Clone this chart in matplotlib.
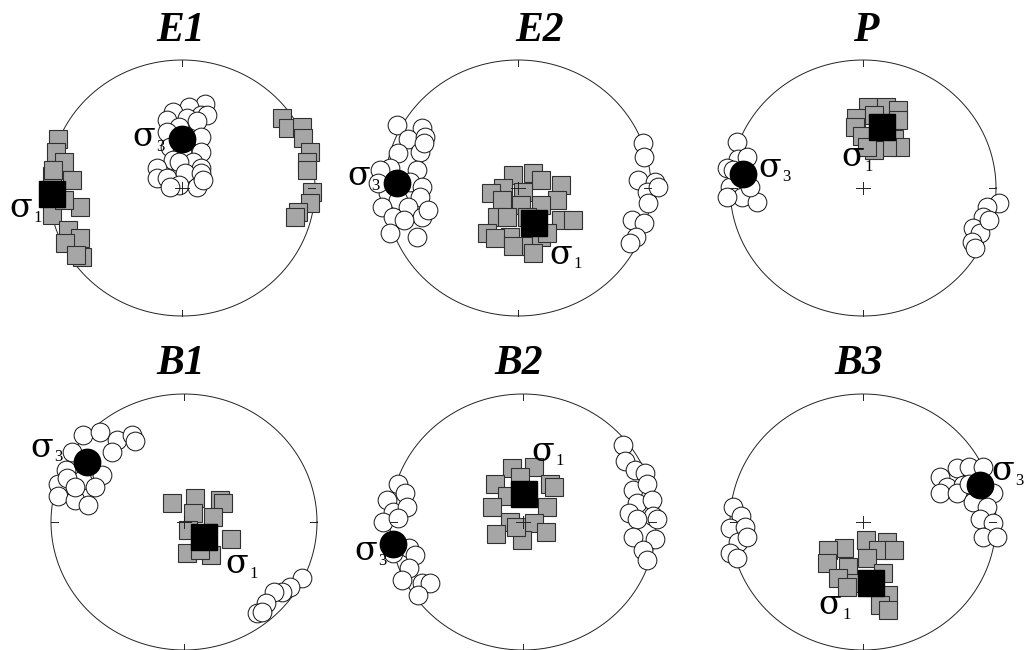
import matplotlib
matplotlib.use("Agg")
import matplotlib.pyplot as plt
import numpy as np

W, H = 1026, 650

# ---------------- data (positions in % of net radius; x = east, y = north) ----------------
titles = ["E1", "E2", "P", "B1", "B2", "B3"]

e1_sq_x = [-93, -95, -89, -98, -83, -77, -98, -86, -77, -88, -75, -80, -89, -97,
           75, 80, 90, 91, 96, 94, 94, 98, 96, 87, 85]
e1_sq_y = [38, 28, 20, 9, 6, -15, -21, -33, -39, -43, -54, -52, -9, 14,
           55, 47, 48, 39, 28, 20, 14, -3, -12, -19, -23]
e1_ci_x = [17, 5, -7, 14, 4, 19, -11, 11, -2, 14, -11, -9, 0, 14, -7, 8, -2, -19, 14,
           -19, -11, 2, 14, -2, 11, -9, 16]
e1_ci_y = [66, 63, 59, 57, 55, 57, 53, 52, 48, 40, 44, 32, 28, 28, 22, 20, 20, 16, 16,
           8, 8, 12, 12, 2, 1, 1, 6]
e1_s1 = (-98, -5)
e1_s3 = (0, 38)

e2_sq_x = [-4, 11, 17, 32, -11, 4, -20, -12, 29, 2, 17, -16, -8, 7, 32, 41, -23, -6,
           -17, 9, 17, -4, 11, 22]
e2_sq_y = [10, 12, 6, 2, 0, -3, -4, -9, -9, -13, -13, -23, -23, -23, -25, -25, -35, -38,
           -39, -45, -38, -45, -51, -35]
e2_ci_x = [-91, -72, -83, -70, -74, -90, -96, -76, -104, -81, -72, -98, -90, -74, -102,
           -83, -94, -72, -96, -76, -86, -68, -105, -71,
           94, 95, 90, 103, 97, 98, 86, 95, 89, 84, 105]
e2_ci_y = [49, 47, 38, 40, 28, 27, 16, 14, 14, 5, 1, -4, -9, -7, -15, -15, -23, -23, -35,
           -38, -25, -17, 4, 35,
           35, 24, 6, 5, -3, -12, -25, -27, -38, -43, 1]
e2_s1 = (12, -27)
e2_s3 = (-91, 4)

p_sq_x = [4, 17, 26, -5, -6, 8, 26, -1, 11, 23, 28, 18, 8, 3]
p_sq_y = [63, 63, 61, 55, 48, 57, 53, 41, 38, 38, 32, 32, 30, 32]
p_ci_x = [-95, -94, -102, -87, -100, -91, -80, -102, -85, -98,
          102, 93, 90, 83, 88, 82, 84, 95]
p_ci_y = [36, 23, 16, 24, 1, -7, -11, -7, 1, 14,
          -12, -15, -23, -31, -35, -42, -47, -25]
p_s1 = (14, 48)
p_s3 = (-90, 11)

b1_sq_x = [-9, 8, 27, 29, 7, 22, 3, 35, 2, 20, 12]
b1_sq_y = [15, 19, 17, 15, 7, 4, -6, -13, -24, -26, -22]
b1_ci_x = [-76, -63, -50, -39, -37, -84, -54, -89, -62, -95, -77, -67, -95, -82, -72,
           -88, -82,
           89, 80, 74, 68, 62, 55, 59]
b1_ci_y = [68, 70, 64, 68, 63, 55, 55, 41, 37, 30, 33, 27, 20, 17, 13, 34, 27,
           -44, -51, -55, -55, -63, -71, -70]
b1_s1 = (15, -12)
b1_s3 = (-73, 47)

b2_sq_x = [-8, 8, -21, -2, 20, -12, -23, 18, -10, 8, -20, -1, 17, -5, 23]
b2_sq_y = [42, 43, 30, 35, 30, 20, 12, 12, 0, -1, -9, -14, -8, -4, 27]
b2_ci_x = [-94, -102, -89, -98, -87, -105, -94, -86, -98, -81, -86, -76, -70, -79, -91,
           75, 77, 84, 92, 83, 93, 86, 97, 80, 98, 86, 83, 99, 90, 93, 101]
b2_ci_y = [30, 17, 23, 8, 12, 0, 3, -20, -24, -26, -36, -48, -48, -57, -45,
           60, 48, 41, 38, 25, 30, 15, 17, 7, 5, 2, -12, -13, -22, -30, 2]
b2_s1 = (1, 22)
b2_s3 = (-98, -17)

b3_sq_x = [2, 18, 11, -14, -26, 23, -27, -11, 3, 15, -19, -5, 7, 19, 13, 19, -12]
b3_sq_y = [-14, -16, -22, -20, -22, -22, -32, -35, -28, -40, -44, -48, -51, -57, -65,
           -69, -51]
b3_ci_x = [58, 71, 80, 90, 63, 75, 58, 71, 88, 98, 83, 93, 88, 98, 90, 101, 80,
           -98, -92, -100, -89, -94, -100, -95, -87]
b3_ci_y = [35, 42, 43, 43, 27, 29, 23, 23, 17, 23, 16, 12, 2, -1, -12, -12, 30,
           12, 5, -5, -4, -16, -24, -28, -12]
b3_s1 = (6, -48)
b3_s3 = (88, 29)

squares_x = [e1_sq_x, e2_sq_x, p_sq_x, b1_sq_x, b2_sq_x, b3_sq_x]
squares_y = [e1_sq_y, e2_sq_y, p_sq_y, b1_sq_y, b2_sq_y, b3_sq_y]
circles_x = [e1_ci_x, e2_ci_x, p_ci_x, b1_ci_x, b2_ci_x, b3_ci_x]
circles_y = [e1_ci_y, e2_ci_y, p_ci_y, b1_ci_y, b2_ci_y, b3_ci_y]
sigma1 = [e1_s1, e2_s1, p_s1, b1_s1, b2_s1, b3_s1]
sigma3 = [e1_s3, e2_s3, p_s3, b1_s3, b2_s3, b3_s3]

# ---------------- layout (pixels) ----------------
centers = [(182, 188), (518, 188), (863, 188), (184, 522), (523, 522), (863, 522)]
RH, RV = 133, 128
title_pos = [(181, 31), (540, 31), (866, 31), (181, 364), (519, 364), (859, 364)]
# label anchor (σ centre) in net-radius units
lab1 = [(-1.21, -0.16), (0.32, -0.52), (-0.08, 0.24), (0.40, -0.33), (0.15, 0.55), (-0.25, -0.65)]
lab3 = [(-0.29, 0.40), (-1.20, 0.09), (-0.70, 0.16), (-1.07, 0.58), (-1.18, -0.23), (1.05, 0.40)]

SERIF = "Liberation Serif"
fig = plt.figure(figsize=(W / 100, H / 100), dpi=100)
fig.patch.set_facecolor("white")

LIM = 1.3
for i in range(6):
    cx, cy = centers[i]
    ax = fig.add_axes([(cx - LIM * RH) / W, 1 - (cy + LIM * RV) / H,
                       2 * LIM * RH / W, 2 * LIM * RV / H])
    ax.set_xlim(-LIM, LIM)
    ax.set_ylim(-LIM, LIM)
    ax.axis("off")

    t = np.linspace(0, 2 * np.pi, 500)
    ax.plot(np.cos(t), np.sin(t), color="#222222", lw=0.7, zorder=1)

    sx = np.array(squares_x[i]) / 100.0
    sy = np.array(squares_y[i]) / 100.0
    ox = np.array(circles_x[i]) / 100.0
    oy = np.array(circles_y[i]) / 100.0
    ax.plot(sx, sy, "s", ms=13.5, mfc="#a6a6a6", mec="#303030", mew=0.8,
            ls="none", zorder=3, clip_on=False)
    ax.plot(ox, oy, "o", ms=13.5, mfc="white", mec="#111111", mew=0.7,
            ls="none", zorder=3, clip_on=False)

    # ticks and centre cross
    tk = 0.05
    for a in (0, 0.5 * np.pi, np.pi, 1.5 * np.pi):
        ax.plot([np.cos(a), (1 - tk) * np.cos(a)], [np.sin(a), (1 - tk) * np.sin(a)],
                color="#222222", lw=0.7, zorder=5)
    ax.plot([-0.05, 0.05], [0, 0], color="#222222", lw=0.7, zorder=5)
    ax.plot([0, 0], [-0.05, 0.05], color="#222222", lw=0.7, zorder=5)

    s1 = sigma1[i]
    s3 = sigma3[i]
    ax.plot(s1[0] / 100.0, s1[1] / 100.0, "s", ms=19, mfc="black", mec="black",
            zorder=6, clip_on=False)
    ax.plot(s3[0] / 100.0, s3[1] / 100.0, "o", ms=19, mfc="black", mec="black",
            zorder=6, clip_on=False)

    for (lx, ly), sub in ((lab1[i], "1"), (lab3[i], "3")):
        ax.text(lx, ly, "σ", ha="center", va="center", fontsize=24,
                family="DejaVu Serif", zorder=7)
        ax.annotate(sub, (lx, ly), xytext=(12, -7), textcoords="offset points",
                    ha="center", va="center", fontsize=12, family=SERIF, zorder=7)

    tx, ty = title_pos[i]
    fig.text(tx / W, 1 - ty / H, titles[i], ha="center", va="center",
             fontsize=30, family=SERIF, weight="bold", style="italic")

fig.savefig("out.png", dpi=100, facecolor="white")
